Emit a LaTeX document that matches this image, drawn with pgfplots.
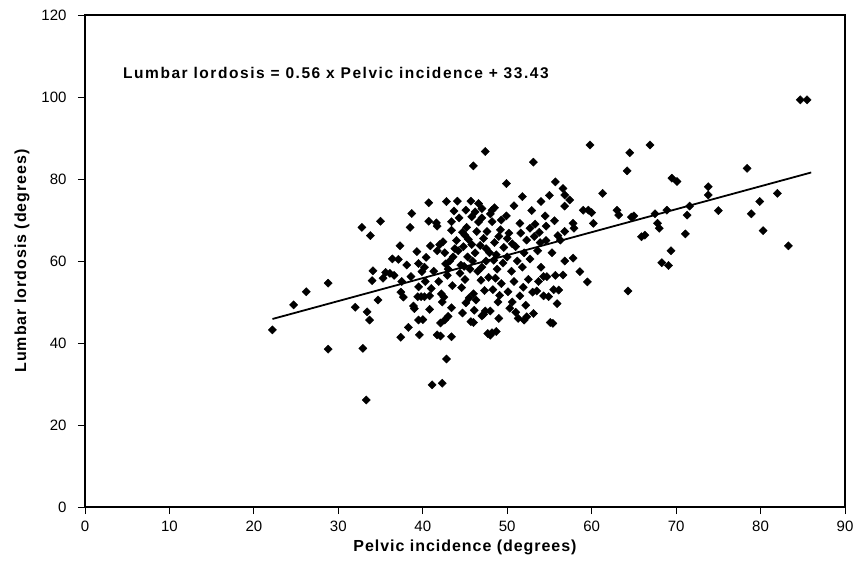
\documentclass[border=0pt]{standalone}
\usepackage{fontspec}
\setmainfont{Liberation Sans}
\usepackage{pgfplots}
\pgfplotsset{compat=1.18}
\usepackage{pgfplotstable}

% pelvic incidence (x) vs lumbar lordosis (y)
\pgfplotstableread{
x y
22.2 43.2
24.7 49.3
26.2 52.5
28.8 54.6
28.8 38.5
32.0 48.7
32.9 38.7
32.8 68.2
33.3 26.1
33.4 47.6
33.7 45.6
33.8 66.2
34.1 57.6
34.0 55.2
34.7 50.5
35.0 69.7
35.3 55.8
35.6 57.2
36.1 57.0
36.6 56.5
36.4 60.5
37.1 60.4
37.3 63.7
37.4 52.4
37.7 51.2
37.5 55.0
37.4 41.4
38.1 59.0
38.3 43.8
38.5 68.2
38.6 56.2
38.7 71.6
38.9 49.0
39.0 48.4
39.3 62.3
39.4 51.3
39.5 59.4
39.5 53.7
39.5 45.6
39.6 42.0
39.8 51.3
39.9 57.4
40.0 45.7
40.2 51.3
40.3 55.0
40.4 60.9
40.7 74.2
40.7 69.7
40.8 51.5
40.8 48.2
40.9 63.7
40.2 58.5
41.0 53.3
41.1 29.8
41.3 57.5
41.6 69.3
41.7 68.5
41.7 42.0
41.7 62.5
41.9 55.0
42.0 64.0
42.1 44.9
42.1 41.7
42.2 52.0
42.3 30.2
42.3 50.0
42.5 51.2
42.6 45.6
42.6 62.0
42.7 59.3
42.8 74.5
42.8 36.1
42.9 56.5
43.0 58.0
43.0 46.5
42.4 64.7
43.4 69.6
43.4 67.5
43.4 48.6
43.4 41.5
43.6 61.0
43.7 72.2
43.5 54.0
43.2 60.0
43.8 63.0
44.1 74.6
44.0 65.0
44.2 62.5
44.3 70.5
44.4 57.0
44.5 59.0
44.6 53.5
44.7 67.0
44.7 47.3
44.8 63.5
44.9 58.7
45.0 66.3
45.1 72.4
45.1 49.8
45.2 68.2
45.3 61.0
45.4 65.3
45.5 51.0
45.0 55.5
45.7 74.6
45.8 70.8
45.7 45.2
45.8 64.0
45.6 58.0
45.9 60.0
46.0 83.2
46.0 52.0
46.0 45.0
46.1 48.0
46.2 72.0
46.2 62.0
46.3 50.5
46.4 67.2
46.5 57.5
46.6 74.0
46.6 69.5
46.8 63.8
46.9 55.3
47.0 72.8
47.0 46.6
47.0 70.5
47.0 58.5
47.2 47.0
47.2 65.5
47.3 52.8
47.4 86.7
47.4 47.8
47.6 67.2
47.5 63.0
47.5 60.0
47.7 42.3
47.8 56.0
47.9 62.0
48.0 47.8
48.0 41.9
48.0 71.5
48.2 72.4
48.2 69.6
48.2 42.5
48.3 53.0
48.4 60.2
48.5 73.0
48.5 64.5
48.6 55.8
48.7 61.5
48.7 42.8
48.8 58.0
48.9 50.0
49.0 66.0
49.1 51.6
49.2 67.6
49.3 54.5
49.3 70.0
49.5 59.5
49.6 63.3
49.0 46.0
49.9 78.9
49.9 71.0
50.0 65.5
50.2 66.8
50.0 61.0
50.1 52.5
50.3 48.5
50.5 57.5
50.6 50.0
50.6 64.2
50.8 55.0
50.8 73.5
51.0 63.5
51.2 60.0
51.0 47.5
51.3 46.0
51.5 69.2
51.5 51.5
51.6 66.8
51.8 75.7
51.8 58.5
51.9 53.6
52.0 45.6
52.0 62.0
52.2 49.2
52.3 65.1
52.3 46.4
52.5 55.5
52.7 68.0
52.7 60.5
52.9 72.3
53.0 52.4
53.1 84.1
53.1 47.2
53.2 66.0
53.3 69.0
53.5 52.7
53.6 62.5
53.7 55.0
53.8 67.0
53.9 64.5
54.0 58.5
54.0 74.5
54.3 56.2
54.3 51.5
54.5 71.0
54.6 65.0
54.6 68.5
54.7 56.2
54.9 51.3
55.0 76.0
55.1 45.0
55.4 44.8
55.5 53.0
55.6 69.8
55.7 79.3
55.7 56.5
55.9 49.6
55.3 62.0
56.0 66.2
56.1 52.9
56.3 65.1
56.6 56.6
56.8 60.0
56.6 77.7
56.8 76.1
57.4 74.9
56.8 73.4
56.8 67.2
57.8 69.2
57.9 68.0
57.8 60.7
58.6 57.4
59.0 72.4
59.6 72.4
60.0 71.8
59.5 54.9
59.8 88.3
60.2 69.2
61.3 76.5
63.0 72.4
63.2 71.2
64.5 86.4
64.2 82.0
64.7 70.7
65.0 71.0
64.3 52.7
65.9 65.9
66.3 66.3
66.9 88.3
67.5 71.5
67.8 69.2
68.0 68.0
68.3 59.6
69.1 58.9
68.9 72.4
69.4 62.5
69.5 80.2
70.1 79.4
71.1 66.6
71.3 71.2
71.6 73.4
73.8 78.1
73.8 76.1
75.0 72.3
78.4 82.6
78.9 71.5
79.9 74.5
80.3 67.4
82.0 76.5
83.3 63.7
84.7 99.3
85.5 99.3
}\datatable

\begin{document}
\begin{tikzpicture}
\begin{axis}[
    scale only axis,
    width=760pt,
    height=492pt,
    xmin=0, xmax=90,
    ymin=0, ymax=120,
    xtick={0,10,...,90},
    ytick={0,20,...,120},
    tick align=outside,
    xtick pos=left,
    ytick pos=left,
    major tick length=7pt,
    axis line style={line width=1.3pt},
    tick style={line width=0.9pt, black},
    /pgf/number format/assume math mode=true,
    ticklabel style={font=\fontsize{15}{15}\selectfont},
    xticklabel style={yshift=-3pt},
    yticklabel style={xshift=-8pt},
    xlabel={Pelvic incidence (degrees)},
    ylabel={Lumbar lordosis (degrees)},
    label style={font=\bfseries\fontsize{16}{16}\selectfont\addfontfeatures{LetterSpace=6}},
    xlabel style={at={(axis description cs:0.5,-0.083)}, anchor=center},
    ylabel style={at={(axis description cs:-0.083,0.5)}, anchor=center},
]
\addplot[only marks, mark=square*, mark size=2.9pt,
         mark options={rotate=45, fill=black, draw=black}] table {\datatable};
\addplot[black, line width=1.8pt] coordinates {(22.2,45.86) (86,81.59)};
\node[anchor=west, font=\bfseries\fontsize{15.5}{15.5}\selectfont\addfontfeatures{LetterSpace=10}]
    at (axis cs:4.1,105.9) {Lumbar lordosis =\ 0.56 x Pelvic incidence + 33.43};
\end{axis}
% canvas margins around the plot box, as in the original
\path ([shift={(-85pt,-66pt)}]current axis.south west)
      rectangle ([shift={(14pt,15pt)}]current axis.north east);
\end{tikzpicture}
\end{document}
